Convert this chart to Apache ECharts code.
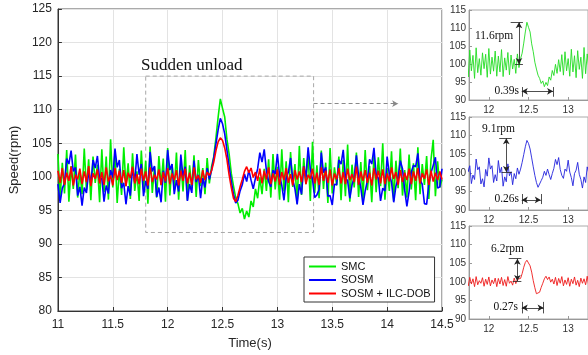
<!DOCTYPE html>
<html>
<head>
<meta charset="utf-8">
<script src="https://cdn.jsdelivr.net/npm/echarts@6/dist/echarts.min.js"></script>
<style>
  html, body { margin: 0; padding: 0; background: #fff; }
  #chart { width: 588px; height: 355px; }
</style>
</head>
<body>
<div id="chart"></div>
<script>
// 采样：11s 起，每 0.02s 一个点，到 14.5s
const startTime = 11;
const sampleStep = 0.02;

// 速度曲线（rpm），按图逐段读出：突卸前 / 突卸过程 / 恢复后
const smcSpeed = [
  103.4, 96.8, 102.1, 97.5, 104.0, 96.3, 101.6, 98.2, 103.3, 96.9,
  100.9, 97.4, 104.2, 98.0, 102.6, 96.5, 103.0, 99.1, 101.8, 96.2,
  104.1, 97.7, 103.0, 96.6, 105.6, 98.4, 103.7, 96.1, 101.2, 97.3,
  104.4, 98.6, 102.0, 96.7, 103.5, 97.9, 100.8, 96.4, 103.9, 98.1,
  102.4, 96.0, 104.5, 97.6, 101.5, 96.9, 103.1, 98.7, 102.7, 96.3,
  104.3, 97.2, 101.9, 98.0, 103.6, 96.6, 102.2, 97.8, 104.0, 96.5,
  101.7, 98.3, 103.2, 97.0, 102.5, 98.6, 101.3, 97.4, 102.8, 99.0,
  101.5, 103.0, 105.8, 108.9, 111.6, 110.2, 108.9, 105.6, 103.4, 100.5,
  98.6, 96.9, 96.0, 94.6, 95.3, 93.7, 94.9, 94.0, 96.4, 95.5, 98.2,
  96.8, 99.9, 97.4, 101.2, 97.9, 102.6, 96.9, 103.4, 98.1, 101.5,
  96.6, 104.1, 97.8, 102.3, 96.2, 103.7, 98.5, 101.9, 96.0, 104.6,
  97.3, 102.8, 98.9, 103.5, 96.4, 105.2, 97.6, 101.7, 96.8, 103.9,
  98.2, 102.1, 96.1, 104.3, 97.5, 101.4, 98.7, 103.0, 96.5, 102.5,
  97.1, 104.8, 96.3, 101.8, 98.4, 103.6, 97.0, 102.2, 96.7, 104.0,
  98.0, 101.6, 96.2, 103.2, 97.7, 102.9, 98.6, 105.0, 96.6, 101.3,
  97.9, 103.8, 96.4, 102.4, 98.3, 104.2, 97.2, 101.0, 96.9, 103.3,
  98.1, 102.0, 96.5, 104.4, 97.4, 101.9, 98.8, 103.1, 96.7, 102.6,
  105.5, 97.1, 102.3, 98.4, 99.6
];
const sosmSpeed = [
  98.9, 96.1, 98.3, 99.0, 102.7, 101.9, 103.9, 100.8, 101.4, 97.2,
  98.5, 95.7, 98.4, 97.6, 100.8, 99.0, 102.5, 101.3, 103.1, 99.6,
  99.8, 96.3, 98.7, 97.5, 101.0, 99.9, 104.2, 101.4, 102.5, 98.3,
  99.1, 95.9, 98.6, 97.2, 101.3, 99.2, 103.4, 100.3, 101.9, 97.1,
  99.4, 98.2, 103.7, 100.8, 101.6, 97.0, 98.4, 96.2, 100.9, 99.1,
  104.0, 101.0, 101.9, 97.4, 99.5, 97.8, 103.3, 100.0, 101.5, 96.4,
  98.9, 97.6, 102.4, 99.2, 100.3, 96.8, 99.8, 98.4, 101.3, 99.6,
  101.0, 102.8, 104.9, 107.0, 108.7, 107.9, 106.4, 104.0, 101.6, 99.3,
  97.4, 96.1, 96.5, 97.9, 98.8, 100.4, 99.3, 101.0, 99.5, 98.2, 99.8,
  101.2, 103.6, 102.2, 104.1, 100.9, 99.3, 98.5, 101.0, 100.4, 103.4,
  100.2, 98.7, 96.5, 99.8, 100.7, 102.8, 99.6, 98.2, 95.9, 98.9,
  97.4, 101.6, 99.9, 104.4, 101.2, 99.6, 96.9, 97.3, 98.1, 103.6,
  100.6, 101.4, 97.1, 97.2, 95.8, 98.9, 98.8, 102.5, 101.9, 104.0,
  99.9, 99.4, 96.8, 98.8, 99.9, 103.2, 100.1, 98.4, 95.8, 97.9,
  99.4, 102.6, 101.9, 104.3, 100.3, 99.8, 96.4, 98.3, 97.9, 103.0,
  100.4, 99.2, 96.2, 98.6, 99.8, 102.4, 101.2, 98.0, 95.6, 97.8,
  100.7, 101.7, 101.5, 103.5, 99.5, 98.9, 96.0, 95.9, 99.0, 100.6,
  101.7, 102.9, 98.3, 98.5, 101.2
];
const ilcSpeed = [
  100.9, 99.1, 101.3, 98.8, 100.6, 99.4, 101.5, 98.7, 100.3, 99.6,
  101.2, 98.9, 100.8, 99.2, 101.6, 98.6, 100.5, 99.7, 101.1, 99.0,
  100.7, 98.8, 101.4, 99.3, 100.2, 98.7, 101.3, 99.5, 100.9, 99.1,
  101.0, 98.6, 100.6, 99.8, 101.5, 99.0, 100.4, 98.9, 101.2, 99.4,
  100.8, 98.7, 101.4, 99.2, 100.3, 99.6, 101.1, 98.8, 100.7, 99.3,
  101.3, 98.9, 100.5, 99.5, 101.0, 98.7, 100.9, 99.4, 101.2, 99.0,
  100.6, 98.8, 101.4, 99.6, 100.2, 99.1, 101.0, 99.5, 100.7, 100.2,
  100.9, 102.2, 103.9, 105.2, 105.8, 105.4, 104.3, 102.6, 100.3, 98.4,
  96.8, 96.3, 97.2, 98.5, 99.6, 100.8, 101.5, 100.6, 101.3, 99.9, 100.7,
  99.4, 101.2, 99.0, 100.9, 99.6, 101.4, 98.9, 100.5, 99.3, 101.1,
  98.8, 100.7, 99.5, 101.3, 99.1, 100.4, 98.7, 101.0, 99.6, 100.8,
  99.2, 101.5, 98.9, 100.3, 99.7, 101.2, 99.0, 100.6, 98.8, 101.4,
  99.4, 100.9, 99.1, 101.1, 98.7, 100.5, 99.6, 101.3, 99.0, 100.7,
  98.9, 101.2, 99.5, 100.4, 99.2, 101.5, 98.8, 100.8, 99.4, 101.0,
  99.1, 100.6, 98.7, 101.3, 99.6, 100.9, 99.0, 101.1, 98.9, 100.5,
  99.3, 101.4, 99.7, 100.7, 98.8, 101.0, 99.2, 100.6, 99.5, 101.2,
  98.9, 100.8, 99.4, 101.3, 99.0, 100.5, 99.7, 101.1, 98.8, 100.9,
  99.3, 100.6, 99.5, 100.8, 99.6
];

const seriesNames = ['SMC', 'SOSM', 'SOSM + ILC-DOB'];
const mainColors = ['#00ee00', '#0000ff', '#ff0000'];
const insetColors = ['#22dd22', '#2222dd', '#ee1a1a'];
const insetXTicks = [12, 12.5, 13];

// 放大图上的标注（数据坐标）
const riseMarks = [
  { x: 12.38, lo: 100, hi: 111.6, top: [12.275, 12.43], bottom: [12.33, 12.43] },
  { x: 12.22, lo: 100.2, hi: 109.3, top: [12.13, 12.29], bottom: [12.16, 12.29] },
  { x: 12.36, lo: 100.2, hi: 106.2, top: [12.25, 12.41], bottom: [12.30, 12.41] }
];
const durationMarks = [
  { from: 12.415, to: 12.81, y: 92.4, tick: [90.9, 93.6] },
  { from: 12.415, to: 12.655, y: 92.7, tick: [91.6, 94.3] },
  { from: 12.415, to: 12.69, y: 93.0, tick: [91.5, 94.6] }
];

const toPairs = (vals) => vals.map((v, i) => [+(startTime + i * sampleStep).toFixed(3), v]);
const allSpeed = [smcSpeed, sosmSpeed, ilcSpeed];

const chart = echarts.init(document.getElementById('chart'));

const insetGrids = [
  { left: 469, top: 10, width: 119, height: 90 },
  { left: 469, top: 117, width: 119, height: 93 },
  { left: 469, top: 226, width: 119, height: 93 }
];

const grids = [{ left: 50, top: 9, width: 392, height: 306, show: true, borderColor: '#555', borderWidth: 1 }]
  .concat(insetGrids.map(g => Object.assign({ show: true, borderColor: '#aaa', borderWidth: 1 }, g)));

const xAxes = [{
  gridIndex: 0, type: 'value', min: 11, max: 14.5, interval: 0.5,
  name: 'Time(s)', nameLocation: 'middle', nameGap: 26,
  nameTextStyle: { fontFamily: 'Liberation Sans', fontSize: 13, color: '#262626' },
  axisLine: { lineStyle: { color: '#333' } },
  axisTick: { inside: true, length: 4, lineStyle: { color: '#333' } },
  splitLine: { show: true, lineStyle: { color: '#e3e3e3' } },
  axisLabel: { fontFamily: 'Liberation Sans', fontSize: 12, color: '#262626', margin: 8 }
}];
const yAxes = [{
  gridIndex: 0, type: 'value', min: 80, max: 125, interval: 5,
  name: 'Speed(rpm)', nameLocation: 'middle', nameGap: 30,
  nameTextStyle: { fontFamily: 'Liberation Sans', fontSize: 13, color: '#262626' },
  axisLine: { lineStyle: { color: '#333' } },
  axisTick: { inside: true, length: 4, lineStyle: { color: '#333' } },
  splitLine: { show: true, lineStyle: { color: '#e3e3e3' } },
  axisLabel: { fontFamily: 'Liberation Sans', fontSize: 12, color: '#262626', margin: 6 }
}];
for (let k = 1; k <= 3; k++) {
  xAxes.push({
    gridIndex: k, type: 'value', min: 11.75, max: 13.25,
    axisLine: { lineStyle: { color: '#999' } },
    axisTick: { inside: true, length: 3, customValues: insetXTicks, lineStyle: { color: '#999' } },
    splitLine: { show: false },
    axisLabel: { customValues: insetXTicks, fontFamily: 'Liberation Sans', fontSize: 10, color: '#333', margin: 5 }
  });
  yAxes.push({
    gridIndex: k, type: 'value', min: 90, max: 115, interval: 5,
    axisLine: { lineStyle: { color: '#999' } },
    axisTick: { inside: true, length: 3, lineStyle: { color: '#999' } },
    splitLine: { show: false },
    axisLabel: { fontFamily: 'Liberation Sans', fontSize: 10, color: '#333', margin: 3 }
  });
}

const series = [];
allSpeed.forEach((vals, i) => {
  const s = {
    name: seriesNames[i], type: 'line', xAxisIndex: 0, yAxisIndex: 0,
    data: toPairs(vals), symbol: 'none', animation: false,
    lineStyle: { width: 1.6, color: mainColors[i] }, itemStyle: { color: mainColors[i] }
  };
  if (i === 0) {
    // 突卸区域虚线框 + 指向放大图的虚线箭头
    s.markArea = {
      silent: true,
      itemStyle: { color: 'rgba(0,0,0,0)', borderColor: '#a8a8a8', borderWidth: 1, borderType: [4, 3] },
      data: [[{ coord: [11.8, 115] }, { coord: [13.33, 91.7] }]]
    };
    s.markLine = {
      silent: true, animation: false, symbol: ['none', 'arrow'], symbolSize: [5, 6],
      label: { show: false },
      lineStyle: { color: '#888', width: 1, type: [4, 3] },
      data: [[{ coord: [13.33, 110.9] }, { coord: [14.1, 110.9] }]]
    };
  }
  series.push(s);
});

allSpeed.forEach((vals, i) => {
  const r = riseMarks[i], d = durationMarks[i];
  series.push({
    name: seriesNames[i] + '-zoom', type: 'line', xAxisIndex: i + 1, yAxisIndex: i + 1,
    data: toPairs(vals), symbol: 'none', animation: false,
    lineStyle: { width: 0.9, color: insetColors[i] },
    markLine: {
      silent: true, animation: false, symbol: 'none', label: { show: false },
      lineStyle: { color: '#222', width: 0.8, type: 'solid' },
      data: [
        [{ coord: [r.x, r.lo], symbol: 'arrow', symbolSize: [5, 6] }, { coord: [r.x, r.hi], symbol: 'arrow', symbolSize: [5, 6] }],
        [{ coord: [r.top[0], r.hi] }, { coord: [r.top[1], r.hi] }],
        [{ coord: [r.bottom[0], r.lo] }, { coord: [r.bottom[1], r.lo] }],
        [{ coord: [d.from, d.y], symbol: 'arrow', symbolSize: [5, 6] }, { coord: [d.to, d.y], symbol: 'arrow', symbolSize: [5, 6] }],
        [{ coord: [d.from, d.tick[0]] }, { coord: [d.from, d.tick[1]] }],
        [{ coord: [d.to, d.tick[0]] }, { coord: [d.to, d.tick[1]] }]
      ]
    }
  });
});

const serif = 'Liberation Serif, Times New Roman, serif';
const noteText = (x, y, text, size, align) => ({
  type: 'text', x: x, y: y, z: 100,
  style: { text: text, font: size + 'px ' + serif, fill: '#111', align: align || 'left', verticalAlign: 'middle' }
});

chart.setOption({
  animation: false,
  grid: grids,
  xAxis: xAxes,
  yAxis: yAxes,
  legend: {
    data: seriesNames, orient: 'vertical', left: 304, top: 257,
    backgroundColor: '#fff', borderColor: '#333', borderWidth: 1, borderRadius: 0,
    padding: [4, 4, 3, 4], itemWidth: 27, itemHeight: 12, itemGap: 2.5,
    itemStyle: { opacity: 0 },
    textStyle: { fontFamily: 'Liberation Sans', fontSize: 11, color: '#111' }
  },
  series: series,
  graphic: [
    noteText(141, 66, 'Sudden unload', 17),
    noteText(475, 36, '11.6rpm', 11.5),
    noteText(519, 91, '0.39s', 11.5, 'right'),
    noteText(482, 129, '9.1rpm', 11.5),
    noteText(519, 199, '0.26s', 11.5, 'right'),
    noteText(491, 249, '6.2rpm', 11.5),
    noteText(518, 307, '0.27s', 11.5, 'right')
  ]
});
</script>
</body>
</html>
